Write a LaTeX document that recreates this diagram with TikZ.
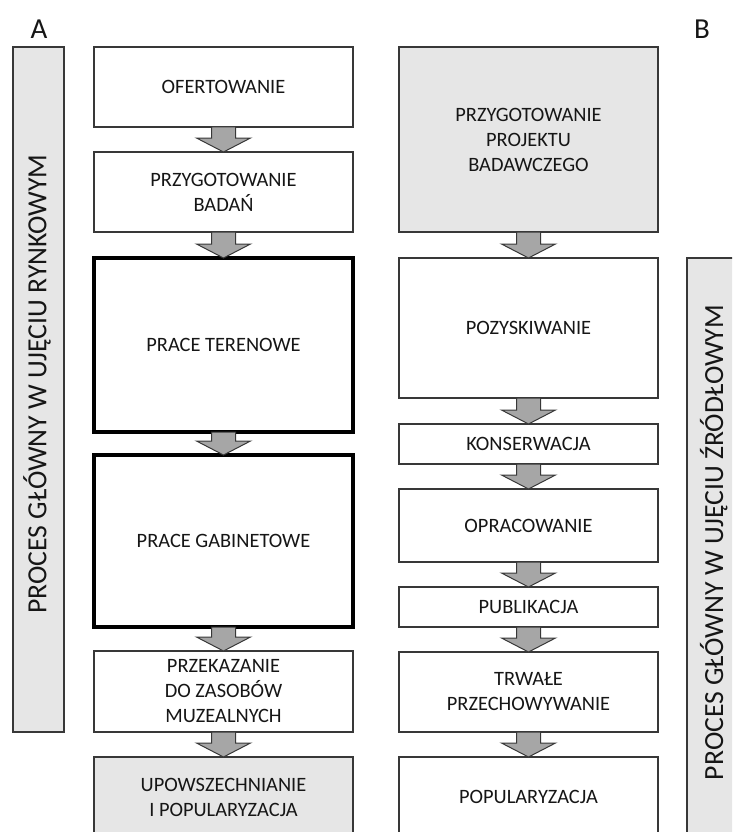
\documentclass[tikz,border=0pt]{standalone}
\usepackage{fontspec}
\setmainfont{Carlito}
\usetikzlibrary{calc}
\definecolor{boxgray}{HTML}{E6E6E6}
\definecolor{arrgray}{HTML}{A6A6A6}
\definecolor{edgec}{HTML}{383838}
\definecolor{txt}{HTML}{161616}
\tikzset{
 box/.style={draw=edgec, line width=1.6pt, fill=white, minimum width=259pt, inner sep=0pt, outer sep=0pt, align=center, text=txt, font=\fontsize{20.4}{25}\selectfont},
 thickbox/.style={box, draw=black, line width=3.2pt},
 graybox/.style={box, fill=boxgray},
 sidebar/.style={draw=edgec, line width=1.6pt, fill=boxgray, inner sep=0pt, outer sep=0pt},
 blockarr/.style={draw=edgec, line width=1pt, fill=arrgray, line join=miter},
 sidetext/.style={rotate=90, anchor=base, text=txt, inner sep=0pt, font=\fontsize{27.7}{30}\selectfont},
 letter/.style={anchor=base, text=txt, inner sep=0pt, font=\fontsize{29}{32}\selectfont}
}
\newcommand\blockarrow[2]{\draw[blockarr] let \p1=(#1.south), \p2=(#2.north) in
 ({\x1-12pt},\y1) -- ({\x1+12pt},\y1) -- ({\x1+12pt},{\y2+14pt}) -- ({\x1+27pt},{\y2+14pt}) --
 (\x1,\y2) -- ({\x1-27pt},{\y2+14pt}) -- ({\x1-12pt},{\y2+14pt}) -- cycle;}
\begin{document}
\begin{tikzpicture}[x=1pt,y=1pt]
\useasboundingbox (0,0) rectangle (732,-832);
\clip (0,0) rectangle (732,-832);
% side bars
\node[sidebar, minimum width=51pt, minimum height=685pt] (barA) at (38.5,-389.5) {};
\node[sidebar, minimum width=63pt, minimum height=592pt] (barB) at (718.5,-554) {};
\node[sidetext] (tA) at (46.4,-384) {PROCES GŁÓWNY W UJĘCIU RYNKOWYM};
\node[sidetext] (tB) at (723,-542.5) {PROCES GŁÓWNY W UJĘCIU ŹRÓDŁOWYM};
% letters
\node[letter] (lA) at (39,-39) {A};
\node[letter] (lB) at (702,-39) {B};
% left column
\node[box, minimum height=80pt] (ofert) at (223.5,-87) {OFERTOWANIE};
\node[box, minimum height=80pt] (przyg) at (223.5,-192) {PRZYGOTOWANIE\\BADAŃ};
\node[thickbox, minimum height=174pt] (teren) at (223.5,-345) {PRACE TERENOWE};
\node[thickbox, minimum height=172pt] (gabin) at (223.5,-541) {PRACE GABINETOWE};
\node[box, minimum height=81pt] (przek) at (223.5,-691.5) {PRZEKAZANIE\\DO ZASOBÓW\\MUZEALNYCH};
\node[graybox, minimum height=80pt] (upow) at (223.5,-797) {UPOWSZECHNIANIE\\I POPULARYZACJA};
% right column
\node[graybox, minimum height=185pt] (proj) at (528.5,-139.5) {PRZYGOTOWANIE\\PROJEKTU\\BADAWCZEGO};
\node[box, minimum height=140pt] (pozy) at (528.5,-328) {POZYSKIWANIE};
\node[box, minimum height=40pt] (kons) at (528.5,-444) {KONSERWACJA};
\node[box, minimum height=73pt] (opra) at (528.5,-525.5) {OPRACOWANIE};
\node[box, minimum height=40pt] (publ) at (528.5,-607) {PUBLIKACJA};
\node[box, minimum height=80pt] (trwa) at (528.5,-692) {TRWAŁE\\PRZECHOWYWANIE};
\node[box, minimum height=80pt] (popu) at (528.5,-797) {POPULARYZACJA};
% arrows
\blockarrow{ofert}{przyg}
\blockarrow{przyg}{teren}
\blockarrow{teren}{gabin}
\blockarrow{gabin}{przek}
\blockarrow{przek}{upow}
\blockarrow{proj}{pozy}
\blockarrow{pozy}{kons}
\blockarrow{kons}{opra}
\blockarrow{opra}{publ}
\blockarrow{publ}{trwa}
\blockarrow{trwa}{popu}
\end{tikzpicture}
\end{document}
